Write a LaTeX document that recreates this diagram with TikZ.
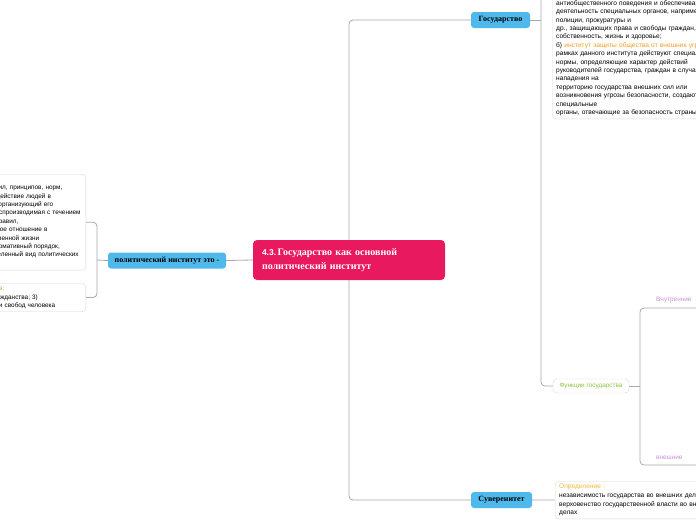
\documentclass[tikz,border=0pt]{standalone}
\usepackage{fontspec}
\setmainfont{Liberation Serif}
\setsansfont{Liberation Sans}
\usepackage{tikz}
\usetikzlibrary{positioning}
\usepackage{xcolor}

\definecolor{mapred}{HTML}{E8195E}
\definecolor{mapblue}{HTML}{4FB9EC}
\definecolor{linegray}{HTML}{A8A8A8}
\definecolor{boxgray}{HTML}{D8D8D8}
\definecolor{funcgreen}{HTML}{8CC43F}
\definecolor{warnorange}{HTML}{F39C1F}
\definecolor{defyellow}{HTML}{F5B92E}
\definecolor{sidepurple}{HTML}{CC8FD6}

\begin{document}
\begin{tikzpicture}[x=1pt, y=-1pt,
            central/.style={rectangle, fill=mapred, text=white, rounded corners=4pt, text width=174pt, align=left, minimum height=40pt, inner xsep=9pt, font=\fontsize{10}{14}\selectfont\bfseries},
            topic/.style={rectangle, fill=mapblue, rounded corners=3pt, minimum height=16pt, inner sep=0pt, font=\fontsize{8}{9}\selectfont\bfseries},
            note/.style={rectangle, draw=boxgray, fill=white, rounded corners=4pt, align=left, inner xsep=4pt, inner ysep=3pt, font=\fontsize{6.4}{8.4}\selectfont\sffamily},
            plain/.style={rectangle, align=left, inner xsep=4pt, inner ysep=3pt, font=\fontsize{6.6}{8.4}\selectfont\sffamily},
            subtopic/.style={rectangle, text=sidepurple, align=left, text width=54pt, inner xsep=13pt, inner ysep=5pt, anchor=south west, font=\fontsize{6.4}{8}\selectfont\sffamily},
            link/.style={draw=linegray, line width=0.8pt, rounded corners=4pt}]

        \path[use as bounding box, fill=white] (0,0) rectangle (696,520);

        \node [central] (center) at (349,260) {{\sffamily\fontsize{8.5}{14}\selectfont 4.3.}\hspace{1.5pt}Государство как основной\\политический институт};
        \node [topic, minimum width=118pt] (polinst) at (167,260.5) {политический институт это -};
        \node [topic, minimum width=59pt] (gos) at (500.5,20) {Государство};
        \node [topic, minimum width=61pt] (suv) at (501.5,500) {Суверенитет};

        % notes of the political institute
        \node [note, anchor=north east, text width=127pt, inner ysep=12pt] (polbox) at (86,174) {комплекс правил, принципов, норм,\\меняя взаимодействие людей в\\государстве и организующий его\\устойчивая, воспроизводимая с течением\\времени ряд правил,\\создающих такое отношение в\\сфере общественной жизни\\устойчивый нормативный порядок,\\а также определенный вид политических};
        \node [note, anchor=north east, text width=127pt] (kindbox) at (86,283) {\textcolor{funcgreen}{Виды института:}\\2) институт гражданства; 3)\\институт прав и свобод человека};

        % notes of the state
        \node [note, anchor=south west, minimum width=200pt, minimum height=260pt] (topbox) at (552,119) {};
        \node [plain, anchor=south west, text width=192pt] (toptext) at (552,119) {антиобщественного поведения и обеспечивающий\\деятельность специальных органов, например,\\полиции, прокуратуры и\\др., защищающих права и свободы граждан, их\\собственность, жизнь и здоровье;\\б) \textcolor{warnorange}{институт защиты общества от внешних угроз: в}\\рамках данного института действуют специальные\\нормы, определяющие характер действий\\руководителей государства, граждан в случае\\нападения на\\территорию государства внешних сил  или\\возникновения угрозы безопасности, создаются\\специальные\\органы, отвечающие за безопасность страны.};
        \node [note, text=funcgreen, minimum width=76pt, minimum height=14pt, inner ysep=0pt, align=center] (func) at (591,386) {Функции государства};
        \node [subtopic] (inner) at (643,308) {Внутренние};
        \node [subtopic] (outer) at (643,465) {внешние};

        % note of the sovereignty
        \node [note, anchor=north west, text width=200pt, font=\fontsize{6.6}{8.6}\selectfont\sffamily] (defbox) at (555,481) {\textcolor{defyellow}{Определение :}\\независимость государства во внешних делах и\\верховенство государственной власти во внутренних\\делах};

        \coordinate (pspine) at (97,260);
        \coordinate (gspine) at (541,20);
        \coordinate (fspine) at (640,386);

        % Center to State
        \draw[link] (center.north) |- (gos.west);

        % Center to Sovereignty
        \draw[link] (center.south) |- (suv.west);

        % Institute to Center
        \draw[link] (polinst.east) -- (center.west);

        % Institute to its notes
        \draw[link] (polinst.west) -- (pspine);
        \draw[link] (polbox.east) -| (pspine) |- (kindbox.east);

        % State to its notes and functions
        \draw[link] (gos.east) -- (gspine);
        \draw[link] (topbox.west) -| (gspine) |- (func.west);

        % Functions to inner and outer
        \draw[link] (func.east) -- (fspine);
        \draw[link] (inner.south east) -| (fspine) |- (outer.south east);

        % Sovereignty to definition
        \draw[link] (suv.east) -- (defbox.west);

    \end{tikzpicture}
\end{document}
